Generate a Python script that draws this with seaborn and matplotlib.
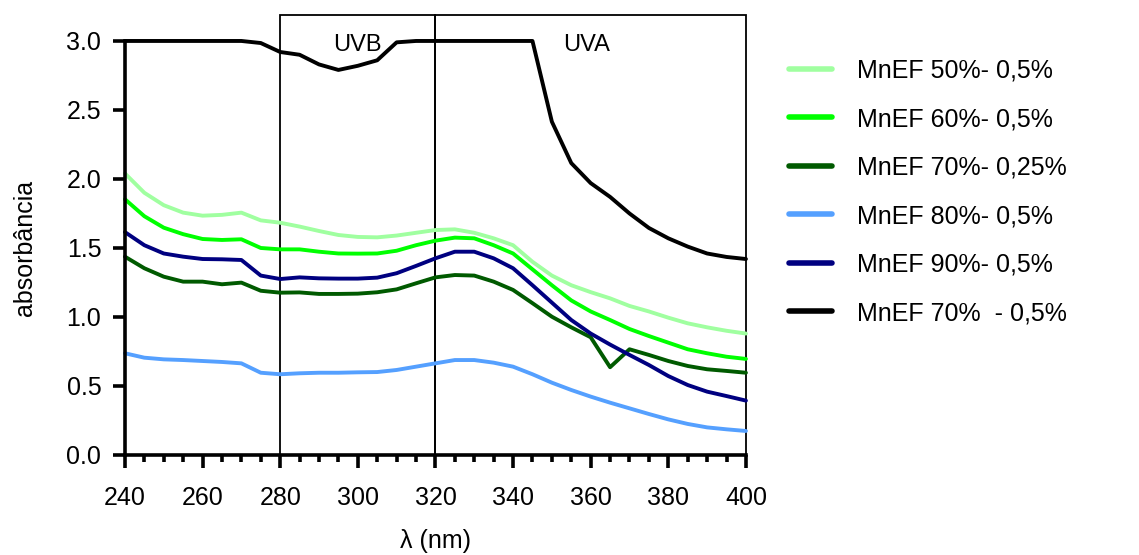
import numpy as np
import pandas as pd
import seaborn as sns
import matplotlib.pyplot as plt
from matplotlib.patches import Rectangle
from matplotlib.ticker import MultipleLocator

# wavelength grid (nm)
wavelength = list(range(240, 401, 5))

mnef50 = [2.04, 1.90, 1.81, 1.756, 1.734, 1.74, 1.756, 1.70, 1.683, 1.655, 1.623, 1.594, 1.58,
          1.577, 1.59, 1.61, 1.63, 1.635, 1.61, 1.57, 1.52, 1.40, 1.30, 1.23, 1.18, 1.135,
          1.08, 1.04, 0.995, 0.954, 0.925, 0.90, 0.88]
mnef60 = [1.853, 1.73, 1.647, 1.60, 1.565, 1.558, 1.563, 1.50, 1.49, 1.49, 1.473, 1.46, 1.459,
          1.46, 1.48, 1.52, 1.553, 1.575, 1.57, 1.52, 1.46, 1.345, 1.23, 1.12, 1.04, 0.978,
          0.913, 0.862, 0.814, 0.766, 0.737, 0.712, 0.696]
mnef70_025 = [1.437, 1.353, 1.292, 1.256, 1.256, 1.237, 1.249, 1.19, 1.176, 1.178, 1.167, 1.167,
              1.169, 1.179, 1.20, 1.244, 1.287, 1.304, 1.30, 1.256, 1.196, 1.10, 1.002, 0.925,
              0.853, 0.636, 0.766, 0.725, 0.681, 0.645, 0.621, 0.609, 0.596]
mnef80 = [0.737, 0.705, 0.693, 0.688, 0.681, 0.674, 0.664, 0.596, 0.585, 0.592, 0.596, 0.596,
          0.599, 0.601, 0.616, 0.64, 0.664, 0.688, 0.688, 0.669, 0.64, 0.585, 0.524, 0.471,
          0.423, 0.379, 0.338, 0.297, 0.258, 0.225, 0.20, 0.186, 0.174]
mnef90 = [1.615, 1.52, 1.46, 1.437, 1.42, 1.418, 1.413, 1.30, 1.275, 1.287, 1.28, 1.278, 1.278,
          1.285, 1.317, 1.37, 1.425, 1.473, 1.473, 1.425, 1.353, 1.23, 1.104, 0.978, 0.88,
          0.80, 0.725, 0.652, 0.572, 0.507, 0.459, 0.427, 0.394]
mnef70_05 = [3.0, 3.0, 3.0, 3.0, 3.0, 3.0, 3.0, 2.985, 2.92, 2.90, 2.83, 2.79, 2.82, 2.86, 2.99,
             3.0, 3.0, 3.0, 3.0, 3.0, 3.0, 3.0, 2.415, 2.115, 1.97, 1.87, 1.75, 1.645, 1.57,
             1.51, 1.46, 1.435, 1.42]

labels = ["MnEF 50%- 0,5%", "MnEF 60%- 0,5%", "MnEF 70%- 0,25%",
          "MnEF 80%- 0,5%", "MnEF 90%- 0,5%", "MnEF 70%  - 0,5%"]
series = [mnef50, mnef60, mnef70_025, mnef80, mnef90, mnef70_05]
colors = ["#a0ffa0", "#00ff00", "#005a00", "#55a0ff", "#000080", "#000000"]

frames = []
for lab, vals in zip(labels, series):
    frames.append(pd.DataFrame({"wl": wavelength, "abs": vals, "amostra": lab}))
df = pd.concat(frames, ignore_index=True)

sns.set_style("ticks")
plt.rcParams['font.family'] = ['Liberation Sans', 'DejaVu Sans']
plt.rcParams.update({"text.color": "black", "axes.labelcolor": "black",
                     "xtick.color": "black", "ytick.color": "black",
                     "axes.edgecolor": "black"})

fig = plt.figure(figsize=(11.39, 5.55), dpi=100)
ax = fig.add_axes([0.1097, 0.1802, 0.5452, 0.746])

sns.lineplot(data=df, x="wl", y="abs", hue="amostra", hue_order=labels,
             palette=dict(zip(labels, colors)), linewidth=2.8, ax=ax, legend=False)
for ln in ax.get_lines():
    ln.set_clip_on(False)

# UVB / UVA boxes
ax.add_patch(Rectangle((280, 0), 40, 3.19, fill=False, lw=1.3, ec="black", clip_on=False))
ax.add_patch(Rectangle((320, 0), 80, 3.19, fill=False, lw=1.3, ec="black", clip_on=False))
ax.text(300, 2.97, "UVB", ha="center", va="center", fontsize=17)
ax.text(359, 2.97, "UVA", ha="center", va="center", fontsize=17)

ax.set_xlim(240, 400)
ax.set_ylim(0, 3.0)
ax.xaxis.set_major_locator(MultipleLocator(20))
ax.xaxis.set_minor_locator(MultipleLocator(5))
ax.yaxis.set_major_locator(MultipleLocator(0.5))
ax.yaxis.set_major_formatter(plt.FormatStrFormatter("%.1f"))

sns.despine(ax=ax)
for s in ["left", "bottom"]:
    ax.spines[s].set_linewidth(2.6)
ax.tick_params(axis="both", which="major", length=9, width=2.6, labelsize=18, pad=8)
ax.tick_params(axis="x", which="major", pad=13)
ax.tick_params(axis="x", which="minor", length=5, width=2.6)

ax.set_xlabel("λ (nm)", fontsize=18, labelpad=14)
ax.set_ylabel("absorbância", fontsize=18, labelpad=21)

handles = [plt.Line2D([], [], color=c, lw=4) for c in colors]
fig.legend(handles, labels, loc="upper left", bbox_to_anchor=(0.673, 0.935),
           frameon=False, fontsize=18, handlelength=1.7, handletextpad=1.0,
           labelspacing=0.98)

plt.savefig("out.png", dpi=100)
